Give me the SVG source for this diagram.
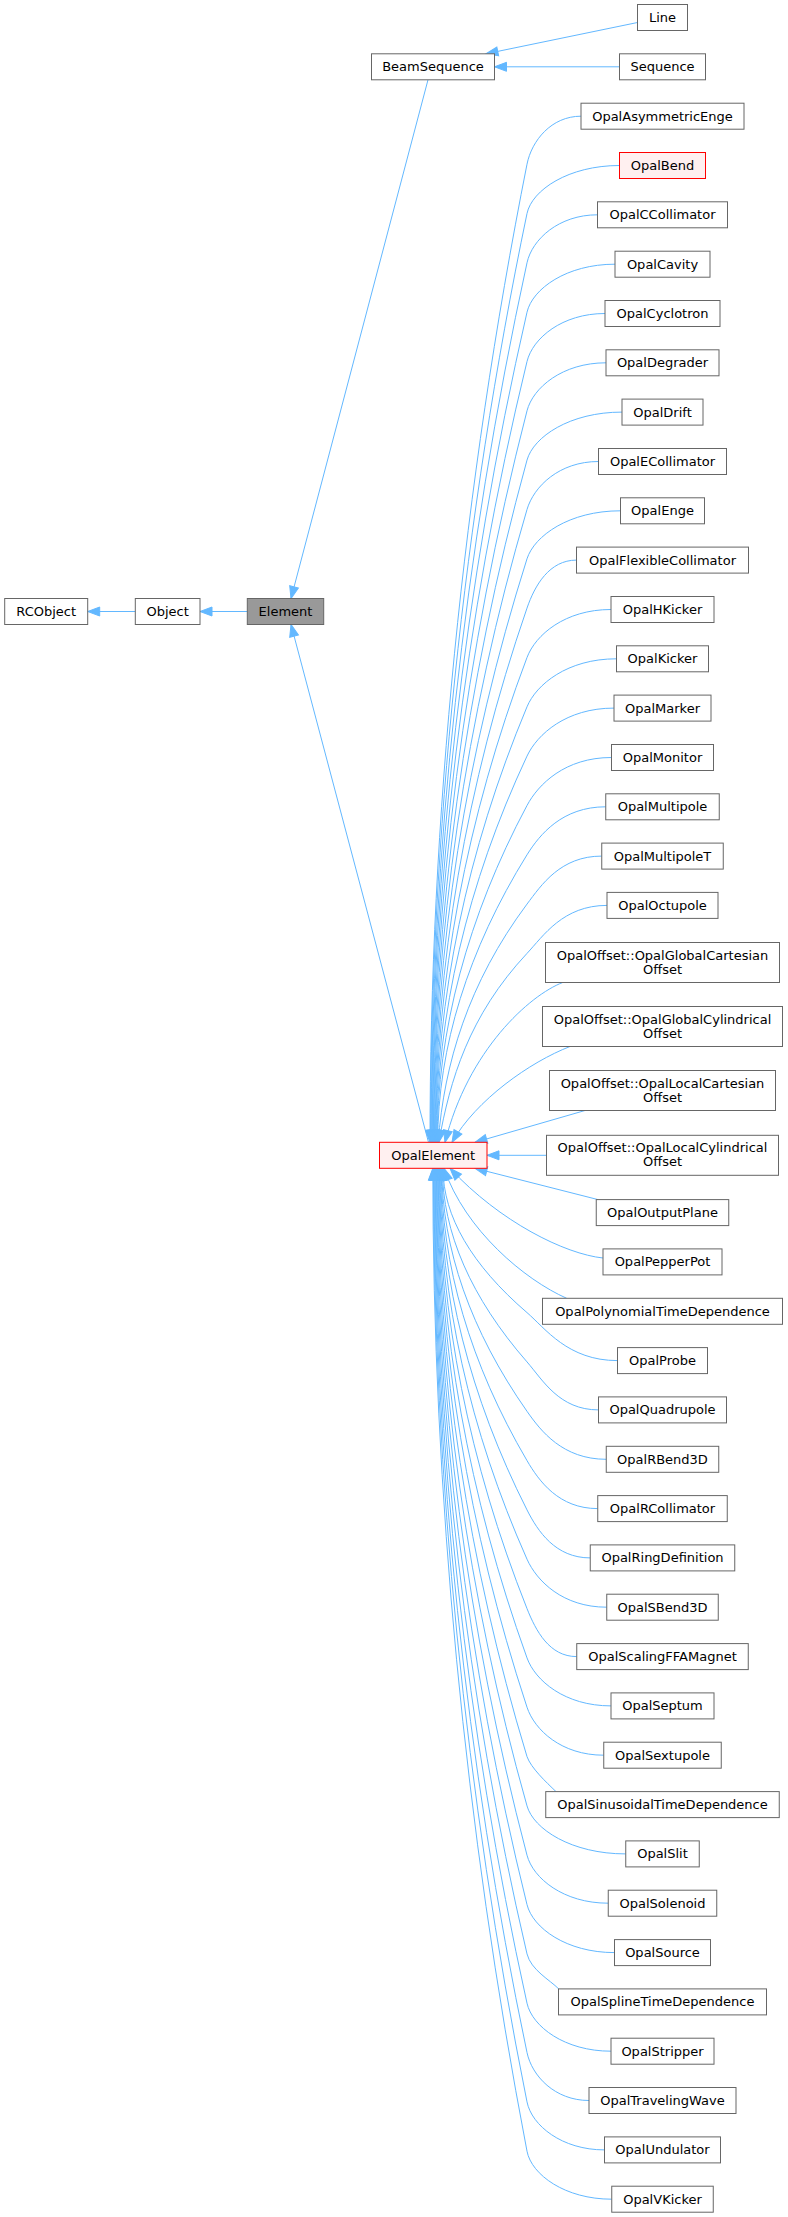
<svg xmlns="http://www.w3.org/2000/svg" width="788" height="2217" viewBox="0 0 788 2217">
<style>
.n rect{fill:#ffffff;stroke:#666666;stroke-width:1}
.n.cur rect{fill:#999999;stroke:#666666}
.n.red rect{fill:#fff0f0;stroke:#ff0000}
text{font-family:"DejaVu Sans","Noto Sans",sans-serif;font-size:13px;text-anchor:middle;fill:#000000}
.e path{fill:none;stroke:#63b8ff;stroke-width:1;marker-end:url(#ah)}
</style>
<defs>
<marker id="ah" markerUnits="userSpaceOnUse" markerWidth="14" markerHeight="12" refX="12" refY="5" orient="auto" overflow="visible">
<path d="M0,0.5 L12,5 L0,9.5 Z" fill="#63b8ff" stroke="#63b8ff" stroke-width="1"/>
</marker>
</defs>
<rect x="0" y="0" width="788" height="2217" fill="#ffffff"/>
<g id="edges" class="e">
<path d="M135.3,611.5 L87.7,611.5"/>
<path d="M247.3,611.5 L200,611.5"/>
<path d="M428,79.8 L291,598.5"/>
<path d="M428.5,1142.3 L291,624.5"/>
<path d="M637.5,22.5 L486,53.8"/>
<path d="M619.5,66.8 L494.5,66.8"/>
<path d="M581,116.2 C551.3,116.2 531.7,140.7 527,164.2 C463,487 430,819.5 430,1142.3"/>
<path d="M619.5,165.5 C568.6,165.5 531.9,190 527,213.5 C463.3,520 430.5,835.8 430.5,1142.3"/>
<path d="M597.5,214.8 C558.7,214.8 532.1,239.4 527,262.8 C463.7,553 431.1,852.1 431.1,1142.3"/>
<path d="M615,264.2 C566.6,264.2 532.4,288.8 527,312.2 C464.1,586.1 431.6,868.4 431.6,1142.3"/>
<path d="M605,313.5 C562.1,313.5 532.7,338.2 527,361.5 C464.4,619.2 432.2,884.6 432.2,1142.3"/>
<path d="M606,362.8 C562.5,362.8 533,387.6 527,410.8 C464.8,652.2 432.7,900.9 432.7,1142.3"/>
<path d="M622,412.1 C569.7,412.1 533.4,436.9 527,460.1 C465.2,685.2 433.3,917.2 433.3,1142.3"/>
<path d="M598.5,461.5 C559.2,461.5 533.8,486.5 527,509.5 C465.5,718.3 433.8,933.5 433.8,1142.3"/>
<path d="M620.5,510.8 C569.1,510.8 534.3,535.9 527,558.8 C465.9,751.4 434.4,949.7 434.4,1142.3"/>
<path d="M576.5,560.1 C549.3,560.1 534.8,585.4 527,608.1 C466.2,784.4 435,966 435,1142.3"/>
<path d="M611,609.5 C564.8,609.5 535.5,635 527,657.5 C466.6,817.5 435.5,982.3 435.5,1142.3"/>
<path d="M616.5,658.8 C567.3,658.8 536.2,684.6 527,706.8 C467,850.5 436,998.6 436,1142.3"/>
<path d="M614,708.1 C566.1,708.1 537.2,734.4 527,756.1 C467.3,883.5 436.6,1014.9 436.6,1142.3"/>
<path d="M611.5,757.5 C565,757.5 538.3,784.3 527,805.5 C467.7,916.6 437.1,1031.2 437.1,1142.3"/>
<path d="M605.7,806.8 C562.4,806.8 539.7,834.4 527,854.8 C468.1,949.7 437.7,1047.4 437.7,1142.3"/>
<path d="M601.7,856.1 C560.6,856.1 541.4,884.9 527,904.1 C468.4,982.7 444,1063.7 438.2,1142.3"/>
<path d="M607,905.4 C563,905.4 543.4,935.9 527,953.4 C468.8,1015.7 450,1079.9 438.8,1142.3"/>
<path d="M562.7,982.5 C530,995 468,1050 445,1142.3"/>
<path d="M570,1046.5 C530,1062 476,1100 452,1142.3"/>
<path d="M585,1110.5 L475,1142.3"/>
<path d="M546.5,1155.3 L487,1155.3"/>
<path d="M598,1199.6 L475,1168.3"/>
<path d="M603,1258 C565,1254 500,1222 450,1168.3"/>
<path d="M566.7,1298.3 C525,1280 465,1230 444,1168.3"/>
<path d="M617.5,1360.6 C567.7,1360.6 545.2,1328.2 527,1312.6 C471.6,1265 443,1215.9 443,1168.3"/>
<path d="M598.5,1409.9 C559.2,1409.9 542.8,1380 527,1361.9 C471.2,1298 442.4,1232.2 442.4,1168.3"/>
<path d="M606.2,1459.3 C562.7,1459.3 540.8,1431 527,1411.3 C470.8,1331.1 441.8,1248.5 441.8,1168.3"/>
<path d="M597.7,1508.6 C558.9,1508.6 539.1,1481.3 527,1460.6 C470.4,1364.1 441.2,1264.8 441.2,1168.3"/>
<path d="M590.2,1557.9 C555.5,1557.9 537.8,1531.3 527,1509.9 C470,1397.2 440.6,1281 440.6,1168.3"/>
<path d="M606.7,1607.2 C562.9,1607.2 536.8,1581.1 527,1559.2 C469.6,1430.2 440,1297.3 440,1168.3"/>
<path d="M576.7,1656.6 C549.4,1656.6 535.9,1630.9 527,1608.6 C469.2,1463.3 439.4,1313.6 439.4,1168.3"/>
<path d="M611,1705.9 C564.8,1705.9 535.1,1680.5 527,1657.9 C468.8,1496.3 438.8,1329.9 438.8,1168.3"/>
<path d="M603.7,1755.2 C561.5,1755.2 534.5,1730 527,1707.2 C468.4,1529.4 438.2,1346.1 438.2,1168.3"/>
<path d="M556,1791.6 C546,1782 531,1768 527,1756.6 C468,1562.5 437.6,1362.4 437.6,1168.3"/>
<path d="M625.7,1853.9 C571.4,1853.9 533.5,1829 527,1805.9 C467.6,1595.5 437,1378.7 437,1168.3"/>
<path d="M608.2,1903.2 C563.6,1903.2 533.1,1878.4 527,1855.2 C467.2,1628.5 436.4,1395 436.4,1168.3"/>
<path d="M614.5,1952.6 C566.4,1952.6 532.8,1927.9 527,1904.6 C466.8,1661.6 435.8,1411.3 435.8,1168.3"/>
<path d="M558.7,1988.9 C550,1980 531,1970 527,1953.9 C466.4,1694.6 435.2,1427.5 435.2,1168.3"/>
<path d="M611,2051.2 C564.8,2051.2 532.2,2026.6 527,2003.2 C466,1727.7 434.6,1443.8 434.6,1168.3"/>
<path d="M589,2100.5 C554.9,2100.5 531.9,2076 527,2052.5 C465.6,1760.7 434,1460.1 434,1168.3"/>
<path d="M604.5,2149.9 C561.9,2149.9 531.7,2125.4 527,2101.9 C465.2,1793.8 433.4,1476.4 433.4,1168.3"/>
<path d="M611.7,2199.2 C565.2,2199.2 531.5,2174.8 527,2151.2 C464.8,1826.8 432.8,1492.7 432.8,1168.3"/>
</g>
<g id="RCObject" class="n"><rect x="4.7" y="598.5" width="83" height="26"/><text x="46.2" y="616">RCObject</text></g>
<g id="Object" class="n"><rect x="135.3" y="598.5" width="64.7" height="26"/><text x="167.7" y="616">Object</text></g>
<g id="Element" class="n cur"><rect x="247.3" y="598.5" width="76.4" height="26"/><text x="285.5" y="616">Element</text></g>
<g id="BeamSequence" class="n"><rect x="371.5" y="53.8" width="123" height="26"/><text x="433" y="71.3">BeamSequence</text></g>
<g id="OpalElement" class="n red"><rect x="379.5" y="1142.3" width="107.5" height="26"/><text x="433.2" y="1159.8">OpalElement</text></g>
<g id="Line" class="n"><rect x="637.5" y="4.5" width="50" height="26"/><text x="662.5" y="22">Line</text></g>
<g id="Sequence" class="n"><rect x="619.5" y="53.8" width="86" height="26"/><text x="662.5" y="71.3">Sequence</text></g>
<g id="OpalAsymmetricEnge" class="n"><rect x="581" y="103.2" width="163" height="26"/><text x="662.5" y="120.7">OpalAsymmetricEnge</text></g>
<g id="OpalBend" class="n red"><rect x="619.5" y="152.5" width="86" height="26"/><text x="662.5" y="170">OpalBend</text></g>
<g id="OpalCCollimator" class="n"><rect x="597.5" y="201.8" width="130" height="26"/><text x="662.5" y="219.3">OpalCCollimator</text></g>
<g id="OpalCavity" class="n"><rect x="615" y="251.2" width="95" height="26"/><text x="662.5" y="268.7">OpalCavity</text></g>
<g id="OpalCyclotron" class="n"><rect x="605" y="300.5" width="115" height="26"/><text x="662.5" y="318">OpalCyclotron</text></g>
<g id="OpalDegrader" class="n"><rect x="606" y="349.8" width="113" height="26"/><text x="662.5" y="367.3">OpalDegrader</text></g>
<g id="OpalDrift" class="n"><rect x="622" y="399.1" width="81" height="26"/><text x="662.5" y="416.6">OpalDrift</text></g>
<g id="OpalECollimator" class="n"><rect x="598.5" y="448.5" width="128" height="26"/><text x="662.5" y="466">OpalECollimator</text></g>
<g id="OpalEnge" class="n"><rect x="620.5" y="497.8" width="84" height="26"/><text x="662.5" y="515.3">OpalEnge</text></g>
<g id="OpalFlexibleCollimator" class="n"><rect x="576.5" y="547.1" width="172" height="26"/><text x="662.5" y="564.6">OpalFlexibleCollimator</text></g>
<g id="OpalHKicker" class="n"><rect x="611" y="596.5" width="103" height="26"/><text x="662.5" y="614">OpalHKicker</text></g>
<g id="OpalKicker" class="n"><rect x="616.5" y="645.8" width="92" height="26"/><text x="662.5" y="663.3">OpalKicker</text></g>
<g id="OpalMarker" class="n"><rect x="614" y="695.1" width="97" height="26"/><text x="662.5" y="712.6">OpalMarker</text></g>
<g id="OpalMonitor" class="n"><rect x="611.5" y="744.5" width="102" height="26"/><text x="662.5" y="762">OpalMonitor</text></g>
<g id="OpalMultipole" class="n"><rect x="605.75" y="793.8" width="113.5" height="26"/><text x="662.5" y="811.3">OpalMultipole</text></g>
<g id="OpalMultipoleT" class="n"><rect x="601.75" y="843.1" width="121.5" height="26"/><text x="662.5" y="860.6">OpalMultipoleT</text></g>
<g id="OpalOctupole" class="n"><rect x="607" y="892.4" width="111" height="26"/><text x="662.5" y="909.9">OpalOctupole</text></g>
<g id="OpalGlobalCartesianOffset" class="n"><rect x="545.5" y="942.5" width="234" height="40"/><text x="662.5" y="959.5">OpalOffset::OpalGlobalCartesian</text><text x="662.5" y="973.5">Offset</text></g>
<g id="OpalGlobalCylindricalOffset" class="n"><rect x="542.5" y="1006.5" width="240" height="40"/><text x="662.5" y="1023.5">OpalOffset::OpalGlobalCylindrical</text><text x="662.5" y="1037.5">Offset</text></g>
<g id="OpalLocalCartesianOffset" class="n"><rect x="549.5" y="1070.5" width="226" height="40"/><text x="662.5" y="1087.5">OpalOffset::OpalLocalCartesian</text><text x="662.5" y="1101.5">Offset</text></g>
<g id="OpalLocalCylindricalOffset" class="n"><rect x="546.5" y="1135.3" width="232" height="40"/><text x="662.5" y="1152.3">OpalOffset::OpalLocalCylindrical</text><text x="662.5" y="1166.3">Offset</text></g>
<g id="OpalOutputPlane" class="n"><rect x="596.25" y="1199.6" width="132.5" height="26"/><text x="662.5" y="1217.1">OpalOutputPlane</text></g>
<g id="OpalPepperPot" class="n"><rect x="603" y="1248.9" width="119" height="26"/><text x="662.5" y="1266.4">OpalPepperPot</text></g>
<g id="OpalPolynomialTimeDependence" class="n"><rect x="542.5" y="1298.3" width="240" height="26"/><text x="662.5" y="1315.8">OpalPolynomialTimeDependence</text></g>
<g id="OpalProbe" class="n"><rect x="617.5" y="1347.6" width="90" height="26"/><text x="662.5" y="1365.1">OpalProbe</text></g>
<g id="OpalQuadrupole" class="n"><rect x="598.5" y="1396.9" width="128" height="26"/><text x="662.5" y="1414.4">OpalQuadrupole</text></g>
<g id="OpalRBend3D" class="n"><rect x="606.25" y="1446.3" width="112.5" height="26"/><text x="662.5" y="1463.8">OpalRBend3D</text></g>
<g id="OpalRCollimator" class="n"><rect x="597.75" y="1495.6" width="129.5" height="26"/><text x="662.5" y="1513.1">OpalRCollimator</text></g>
<g id="OpalRingDefinition" class="n"><rect x="590.25" y="1544.9" width="144.5" height="26"/><text x="662.5" y="1562.4">OpalRingDefinition</text></g>
<g id="OpalSBend3D" class="n"><rect x="606.75" y="1594.2" width="111.5" height="26"/><text x="662.5" y="1611.7">OpalSBend3D</text></g>
<g id="OpalScalingFFAMagnet" class="n"><rect x="576.75" y="1643.6" width="171.5" height="26"/><text x="662.5" y="1661.1">OpalScalingFFAMagnet</text></g>
<g id="OpalSeptum" class="n"><rect x="611" y="1692.9" width="103" height="26"/><text x="662.5" y="1710.4">OpalSeptum</text></g>
<g id="OpalSextupole" class="n"><rect x="603.75" y="1742.2" width="117.5" height="26"/><text x="662.5" y="1759.7">OpalSextupole</text></g>
<g id="OpalSinusoidalTimeDependence" class="n"><rect x="545.75" y="1791.6" width="233.5" height="26"/><text x="662.5" y="1809.1">OpalSinusoidalTimeDependence</text></g>
<g id="OpalSlit" class="n"><rect x="625.75" y="1840.9" width="73.5" height="26"/><text x="662.5" y="1858.4">OpalSlit</text></g>
<g id="OpalSolenoid" class="n"><rect x="608.25" y="1890.2" width="108.5" height="26"/><text x="662.5" y="1907.7">OpalSolenoid</text></g>
<g id="OpalSource" class="n"><rect x="614.5" y="1939.6" width="96" height="26"/><text x="662.5" y="1957.1">OpalSource</text></g>
<g id="OpalSplineTimeDependence" class="n"><rect x="558.5" y="1988.9" width="208" height="26"/><text x="662.5" y="2006.4">OpalSplineTimeDependence</text></g>
<g id="OpalStripper" class="n"><rect x="611" y="2038.2" width="103" height="26"/><text x="662.5" y="2055.7">OpalStripper</text></g>
<g id="OpalTravelingWave" class="n"><rect x="589" y="2087.5" width="147" height="26"/><text x="662.5" y="2105">OpalTravelingWave</text></g>
<g id="OpalUndulator" class="n"><rect x="604.5" y="2136.9" width="116" height="26"/><text x="662.5" y="2154.4">OpalUndulator</text></g>
<g id="OpalVKicker" class="n"><rect x="611.75" y="2186.2" width="101.5" height="26"/><text x="662.5" y="2203.7">OpalVKicker</text></g>
</svg>
